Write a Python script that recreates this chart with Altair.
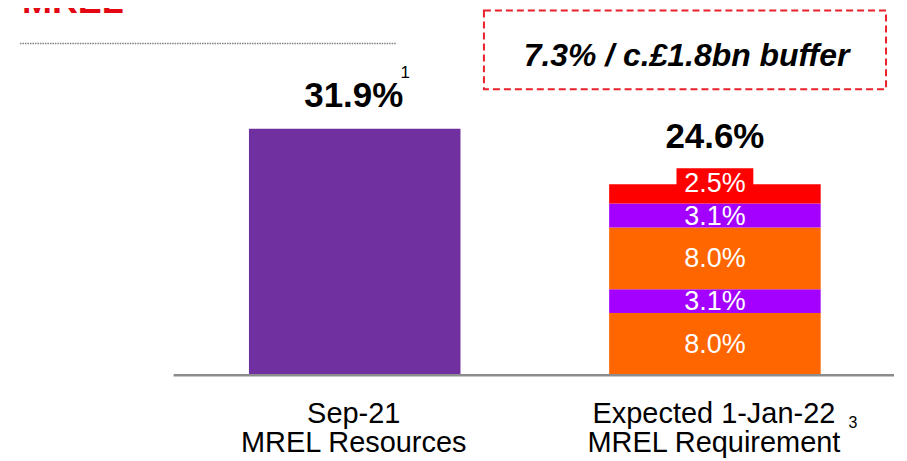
import altair as alt
import pandas as pd

FONT = "Liberation Sans, Arial, Helvetica, sans-serif"

# ---- data ----
categories = ["Sep-21|MREL Resources", "Expected 1-Jan-22|MREL Requirement"]
resources_values = [31.9]
resources_colors = ["#7030A0"]
req_values = [8.0, 3.1, 8.0, 3.1, 2.5]          # bottom -> top
req_labels = ["8.0%", "3.1%", "8.0%", "3.1%", "2.5%"]
req_colors = ["#FF6600", "#A400FF", "#FF6600", "#A400FF", "#FF0000"]
total_labels = ["31.9%", "24.6%"]
footnotes = ["1", "3"]
buffer_text = "7.3% / c.£1.8bn buffer"
title_text = "MREL"

# ---- tables built from the lists ----
rows = []
start = 0.0
for v, c in zip(resources_values, resources_colors):
    rows.append({"cat": categories[0], "start": start, "end": start + v, "color": c, "label": "", "idx": 0})
    start += v
start = 0.0
for i, (v, lab, c) in enumerate(zip(req_values, req_labels, req_colors)):
    rows.append({"cat": categories[1], "start": start, "end": start + v, "color": c, "label": lab, "idx": i})
    start += v
seg = pd.DataFrame(rows)
seg["mid"] = (seg["start"] + seg["end"]) / 2

tops = pd.DataFrame({
    "cat": categories,
    "top": [seg[seg.cat == c]["end"].max() for c in categories],
    "label": total_labels,
})
boxed = seg[(seg.cat == categories[1]) & (seg.idx == len(req_values) - 1)]

W, H = 722, 309
xenc = alt.X("cat:N", sort=categories, scale=alt.Scale(paddingInner=0, paddingOuter=0),
             axis=alt.Axis(title=None, domain=False, ticks=False, labelAngle=0,
                           labelExpr="split(datum.label, '|')", labelFont=FONT,
                           labelFontSize=29, labelColor="#000000", labelLineHeight=28.5,
                           labelPadding=25, labelBaseline="top", labelLimit=500))
yscale = alt.Scale(domain=[0, 40], nice=False, zero=True)

bars = alt.Chart(seg).mark_bar(size=212, xOffset=1).encode(
    x=xenc,
    y=alt.Y("start:Q", scale=yscale, axis=None),
    y2="end:Q",
    color=alt.Color("color:N", scale=None),
)

label_box = alt.Chart(boxed).mark_bar(size=77, xOffset=1, yOffset=-16, y2Offset=-16).encode(
    x=alt.X("cat:N", sort=categories),
    y=alt.Y("end:Q", scale=yscale),
    y2="start:Q",
    color=alt.Color("color:N", scale=None),
)

seg_text = alt.Chart(seg[(seg.label != "") & (seg.idx < len(req_values) - 1)]).mark_text(
    font=FONT, fontSize=27, color="white", baseline="middle", dy=1, dx=1
).encode(x=alt.X("cat:N", sort=categories), y=alt.Y("mid:Q", scale=yscale), text="label:N")

top_seg_text = alt.Chart(boxed).mark_text(
    font=FONT, fontSize=27, color="white", baseline="middle", dy=-10, dx=1
).encode(x=alt.X("cat:N", sort=categories), y=alt.Y("mid:Q", scale=yscale), text="label:N")

tot1 = alt.Chart(tops[tops.cat == categories[0]]).mark_text(
    font=FONT, fontSize=35, fontWeight="bold", color="#000000", baseline="alphabetic", dy=-22
).encode(x=alt.X("cat:N", sort=categories), y=alt.Y("top:Q", scale=yscale), text="label:N")

tot2 = alt.Chart(tops[tops.cat == categories[1]]).mark_text(
    font=FONT, fontSize=35, fontWeight="bold", color="#000000", baseline="alphabetic", dy=-36, dx=1
).encode(x=alt.X("cat:N", sort=categories), y=alt.Y("top:Q", scale=yscale), text="label:N")

fn1 = alt.Chart(tops[tops.cat == categories[0]].assign(fn=footnotes[0])).mark_text(
    font=FONT, fontSize=17, color="#000000", align="left", baseline="alphabetic", dx=47, dy=-51
).encode(x=alt.X("cat:N", sort=categories), y=alt.Y("top:Q", scale=yscale), text="fn:N")

fn3 = alt.Chart(pd.DataFrame({"cat": [categories[1]], "fn": [footnotes[1]]})).mark_text(
    font=FONT, fontSize=16, color="#000000", align="left", baseline="alphabetic", dx=135
).encode(x=alt.X("cat:N", sort=categories), y=alt.value(362.5), text="fn:N")

one = pd.DataFrame({"a": [0]})
baseline = alt.Chart(one).mark_rule(color="#8c8c8c", strokeWidth=2.5).encode(
    x=alt.value(0), x2=alt.value(W), y=alt.value(H + 0.5))

dotted = alt.Chart(one).mark_rule(color="#808080", strokeWidth=1.5, strokeDash=[1.5, 1]).encode(
    x=alt.value(-154), x2=alt.value(223), y=alt.value(-23))

box = alt.Chart(one).mark_rect(fillOpacity=0, stroke="#E8212B", strokeWidth=2,
                               strokeDash=[7, 4]).encode(
    x=alt.value(311), x2=alt.value(714), y=alt.value(-56), y2=alt.value(23))

box_text = alt.Chart(one).mark_text(
    font=FONT, fontSize=32, fontWeight="bold", fontStyle="italic", color="#000000",
    align="center", baseline="middle"
).encode(x=alt.value(514), y=alt.value(-10), text=alt.value(buffer_text))

title = alt.Chart(one).mark_text(
    font=FONT, fontSize=36, fontWeight="bold", color="#E30613", align="left", baseline="alphabetic"
).encode(x=alt.value(-152), y=alt.value(-54), text=alt.value(title_text))

chart = alt.layer(
    bars, label_box, seg_text, top_seg_text, tot1, tot2, fn1, fn3,
    baseline, dotted, box, box_text, title
).properties(
    width=W, height=H,
    background="white",
    autosize=alt.AutoSizeParams(type="none"),
    padding={"left": 166, "top": 58, "right": 5, "bottom": 88},
).configure_view(stroke=None)

chart.save("out.html", embed_options={"renderer": "svg", "actions": False})
